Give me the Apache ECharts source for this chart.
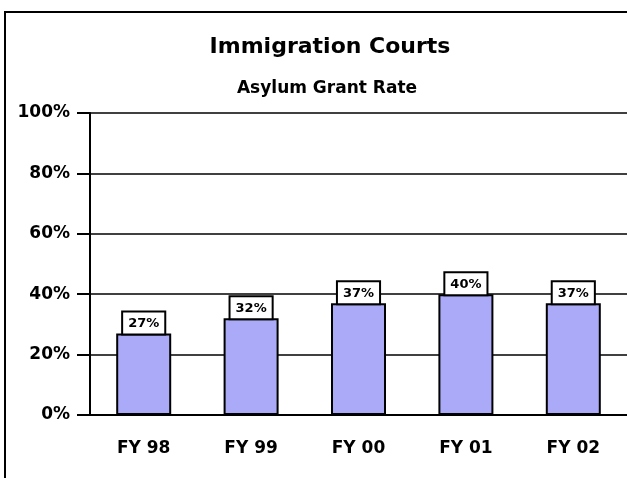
<!DOCTYPE html>
<html>
<head>
    <meta charset="UTF-8">
    <title>Immigration Courts</title>
    <script src="https://cdn.jsdelivr.net/npm/echarts@6/dist/echarts.min.js"></script>
    <style type="text/css">
        html, body, #main {
            height: 100%;
            width: 100%;
            margin: 0;
            padding: 0;
            background: #fff;
        }
    </style>
</head>
<body>
<div id="main"></div>
<script type="text/javascript">
    // data
    var categories = ['FY 98', 'FY 99', 'FY 00', 'FY 01', 'FY 02'];
    var grantRate = [27, 32, 37, 40, 37];
    var yTicks = [0, 20, 40, 60, 80, 100];

    var font = 'DejaVu Sans';
    var mycharts = echarts.init(document.getElementById('main'));
    var option = {
        animation: false,
        graphic: [
            {   // outer frame
                type: 'rect',
                shape: {x: 5, y: 12, width: 640, height: 480},
                style: {fill: 'none', stroke: '#000', lineWidth: 2}
            },
            {
                type: 'text', x: 330, y: 47,
                style: {text: 'Immigration Courts', font: 'bold 22px "DejaVu Sans"', fill: '#000',
                    textAlign: 'center', textVerticalAlign: 'middle'}
            },
            {
                type: 'text', x: 327, y: 89,
                style: {text: 'Asylum Grant Rate', font: 'bold 17px "DejaVu Sans"', fill: '#000',
                    textAlign: 'center', textVerticalAlign: 'middle'}
            }
        ],
        grid: {left: 90, top: 113, width: 540, height: 302},
        xAxis: {
            type: 'category',
            data: categories,
            axisLine: {lineStyle: {color: '#000', width: 2}},
            axisTick: {alignWithLabel: true, length: 14, lineStyle: {color: '#000', width: 2}},
            axisLabel: {color: '#000', fontFamily: font, fontWeight: 'bold', fontSize: 17, margin: 25}
        },
        yAxis: {
            type: 'value',
            min: yTicks[0],
            max: yTicks[yTicks.length - 1],
            interval: 20,
            axisLine: {show: true, lineStyle: {color: '#000', width: 2}},
            axisTick: {show: true, length: 13, lineStyle: {color: '#000', width: 2}},
            splitLine: {lineStyle: {color: '#000', width: 1.5}},
            axisLabel: {color: '#000', fontFamily: font, fontWeight: 'bold', fontSize: 17, margin: 20,
                formatter: '{value}%'}
        },
        series: [{
            name: 'Asylum Grant Rate',
            type: 'bar',
            data: grantRate,
            barWidth: 55,
            itemStyle: {color: '#aaaaf8', borderColor: '#000', borderWidth: 2},
            label: {
                show: true,
                position: 'top',
                distance: 0,
                formatter: '{c}%',
                color: '#000',
                fontFamily: font,
                fontWeight: 'bold',
                fontSize: 13,
                backgroundColor: '#fff',
                borderColor: '#000',
                borderWidth: 2,
                padding: [5, 5, 3, 5]
            }
        }]
    };
    mycharts.setOption(option);
</script>
</body>
</html>
